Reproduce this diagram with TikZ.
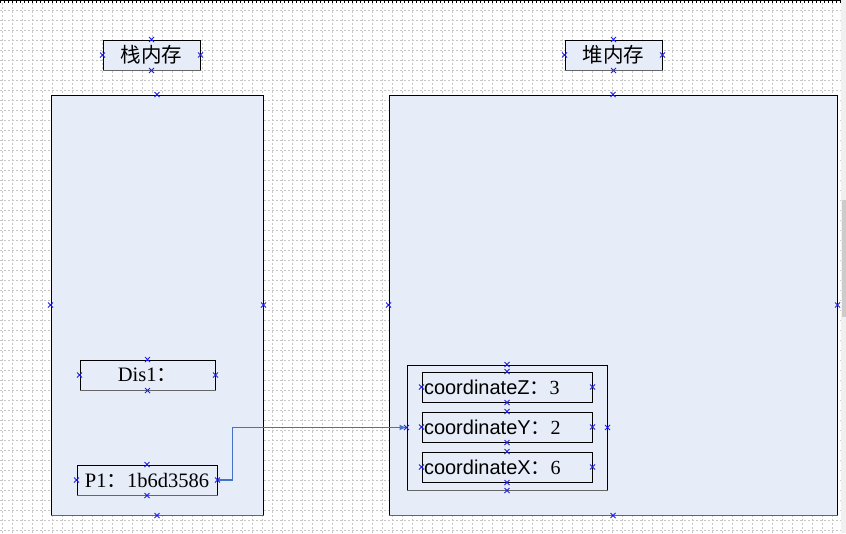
\documentclass[tikz,border=0pt]{standalone}
\usepackage{fontspec}
\setmainfont{Liberation Serif}
\setsansfont{Liberation Sans}
\newfontfamily\cjk{Noto Sans CJK SC}
\usepackage{xcolor}
\usepackage{tikz}
\usetikzlibrary{calc}
\usetikzlibrary{arrows.meta}
\usetikzlibrary{positioning}

\definecolor{boxfill}{HTML}{E7EDF8}
\definecolor{linkblue}{HTML}{4472C4}
\definecolor{cptblue}{HTML}{1E1EE6}

\newcommand\cpts[1]{%
  \foreach \a in {north,south,east,west}
    {\draw[cpt] (#1.\a) +(-2.5,-2.5) -- +(2.5,2.5) +(-2.5,2.5) -- +(2.5,-2.5);}}

\begin{document}
\begin{tikzpicture}[x=1pt,y=-1pt]
% 1 = 1px
    \def\W{846}
    \def\H{533}
    \def\BOXH{30pt} %height of small boxes
    \def\ROWH{30pt} %height of coordinate boxes
    \def\ROWW{166pt} %text width of coordinate boxes

    \tikzset{
      gridline/.style={gray!45,line width=0.5pt,dash pattern=on 2pt off 2pt},
      area/.style={draw=black,fill=boxfill,line width=1pt,inner sep=0pt},
      cell/.style={area,minimum height=\BOXH,font=\fontsize{20.5}{20.5}\selectfont},
      row/.style={cell,text width=\ROWW,inner xsep=2pt,align=left,
        minimum height=\ROWH,font=\sffamily\fontsize{20}{20}\selectfont},
      cpt/.style={cptblue,line width=0.9pt},
      shade/.style={gray!80!black,line width=1.8pt},
      link/.style={linkblue,line width=1.8pt,-{Latex[length=7pt,width=6pt]}},
    }

    \useasboundingbox (0,0) rectangle (\W,\H);
    \fill[white] (0,0) rectangle (\W,\H);

    % GRID
    \foreach \x in {2,12,...,842}
        \draw[gridline] (\x,3) -- (\x,\H);
    \foreach \y in {10,20,...,530}
        \draw[gridline] (0,\y) -- (841,\y);
    % ruler on top, scroll bar on the right
    \draw[black,line width=1pt] (0,0.5) -- (841,0.5);
    \draw[black,line width=2pt,dash pattern=on 1pt off 3pt] (0,1.5) -- (841,1.5);
    \fill[gray!12] (841,0) rectangle (\W,\H);
    \fill[gray!40] (842,200) rectangle (\W,317);

    % STACK
    \node[area,minimum width=212pt,minimum height=420pt] (stack) at (157,305) {};
    \node[cell,minimum width=97pt] (stacktitle) at (151.5,55) {\cjk 栈内存};
    \node[cell,minimum width=135pt] (dis) at (147.5,375) {Dis1{\cjk ：}};
    \node[cell,minimum width=140pt] (p1) at (147,480) {P1{\cjk ：}1b6d3586};

    % HEAP
    \node[area,minimum width=448pt,minimum height=420pt] (heap) at (613,305) {};
    \node[cell,minimum width=97pt] (heaptitle) at (613.5,55) {\cjk 堆内存};
    \node[area,minimum width=200pt,minimum height=125pt] (point) at (507,427.5) {};
    \node[row] (cz) at (507,387) {coordinateZ{\cjk ：}\rmfamily 3};
    \node[row] (cy) at (507,427) {coordinateY{\cjk ：}\rmfamily 2};
    \node[row] (cx) at (507,467) {coordinateX{\cjk ：}\rmfamily 6};

    % bottom edges
    \foreach \n in {stack,heap,stacktitle,heaptitle,dis,p1,point}
        \draw[shade] (\n.south west) -- (\n.south east);

    % REFERENCE
    \draw[link] (p1.east) -- ++(15,0) |- (point.west);

    % CONNECTION POINTS
    \foreach \n in {stack,heap,stacktitle,heaptitle,dis,p1,point,cz,cy,cx}
        {\cpts{\n}}

\end{tikzpicture}
\end{document}
